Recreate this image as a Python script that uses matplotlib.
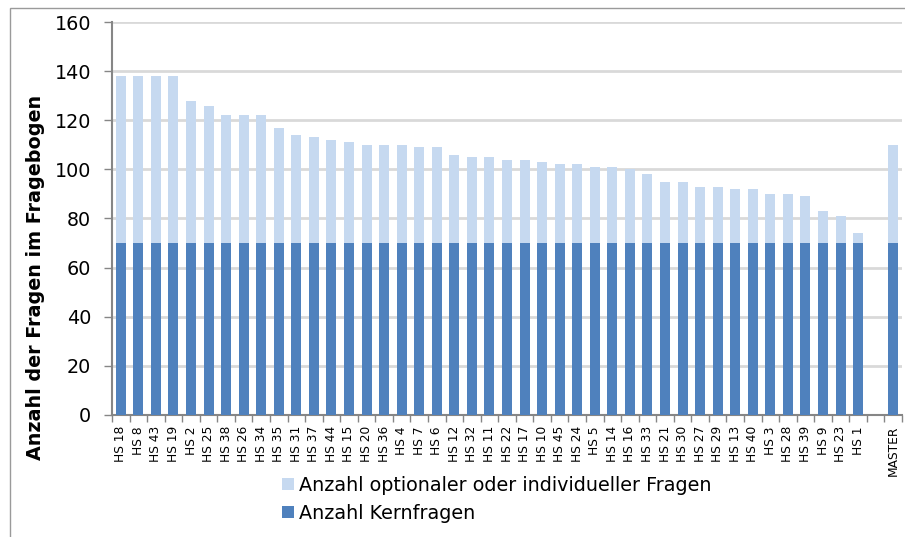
import matplotlib
matplotlib.use("Agg")
import matplotlib.pyplot as plt
from matplotlib.patches import Rectangle
import numpy as np

categories = ["HS 18", "HS 8", "HS 43", "HS 19", "HS 2", "HS 25", "HS 38", "HS 26", "HS 34",
              "HS 35", "HS 31", "HS 37", "HS 44", "HS 15", "HS 20", "HS 36", "HS 4", "HS 7",
              "HS 6", "HS 12", "HS 32", "HS 11", "HS 22", "HS 17", "HS 10", "HS 45", "HS 24",
              "HS 5", "HS 14", "HS 16", "HS 33", "HS 21", "HS 30", "HS 27", "HS 29", "HS 13",
              "HS 40", "HS 3", "HS 28", "HS 39", "HS 9", "HS 23", "HS 1", "", "MASTER"]
totals = [138, 138, 138, 138, 128, 126, 122, 122, 122,
          117, 114, 113, 112, 111, 110, 110, 110, 109,
          109, 106, 105, 105, 104, 104, 103, 102, 102,
          101, 101, 100, 98, 95, 95, 93, 93, 92,
          92, 90, 90, 89, 83, 81, 74, 0, 110]
core = [70] * 43 + [0, 70]
optional = [t - c for t, c in zip(totals, core)]

label_core = "Anzahl Kernfragen"
label_opt = "Anzahl optionaler oder individueller Fragen"

c_core = "#4F81BD"
c_opt = "#C6D9F0"
grid_c = "#D9D9D9"
spine_c = "#868686"

plt.rcParams['font.family'] = ['DejaVu Sans']

fig = plt.figure(figsize=(9.05, 5.37), dpi=100)
fig.patches.append(Rectangle((10 / 905, -0.1), 1.2, (537 - 8) / 537 + 0.1,
                             transform=fig.transFigure, fill=False,
                             edgecolor="#9a9a9a", linewidth=1.0, zorder=0))

ax = fig.add_axes([112 / 905, 1 - 415 / 537, (902 - 112) / 905, (415 - 22) / 537])

x = np.arange(len(categories))
w = 0.57
b1 = ax.bar(x, core, width=w, color=c_core, label=label_core, zorder=3)
b2 = ax.bar(x, optional, width=w, bottom=core, color=c_opt, label=label_opt, zorder=3)

ax.set_xlim(-0.5, len(categories) - 0.5)
ax.set_ylim(0, 160)
ax.set_yticks(np.arange(0, 161, 20))
ax.yaxis.grid(True, color=grid_c, linewidth=2, zorder=0)
ax.set_axisbelow(True)

ax.set_xticks(x)
ax.set_xticklabels(categories, rotation=90, fontsize=8.8)
ax.tick_params(axis='x', which='major', length=0, pad=8)
ax.set_xticks(np.arange(-0.5, len(categories), 1), minor=True)
ax.tick_params(axis='x', which='minor', length=5, color=spine_c, width=1)
ax.tick_params(axis='y', length=6, color=spine_c, width=1, labelsize=13.8, pad=9)

for s in ['top', 'right']:
    ax.spines[s].set_visible(False)
for s in ['left', 'bottom']:
    ax.spines[s].set_color(spine_c)
    ax.spines[s].set_linewidth(1.5)

ax.set_ylabel("Anzahl der Fragen im Fragebogen", fontsize=13.8, fontweight='bold')
ax.yaxis.set_label_coords((45 - 112) / 790, (415 - 277) / 393)

handles = [b2, b1]
labels = [label_opt, label_core]
fig.legend(handles, labels, loc='upper left', bbox_to_anchor=(282 / 905, 1 - 476 / 537),
           frameon=False, fontsize=13.8, handlelength=0.62, handleheight=0.62,
           handletextpad=0.26, labelspacing=0.45, borderpad=0, borderaxespad=0)

fig.savefig("out.png", dpi=100)
